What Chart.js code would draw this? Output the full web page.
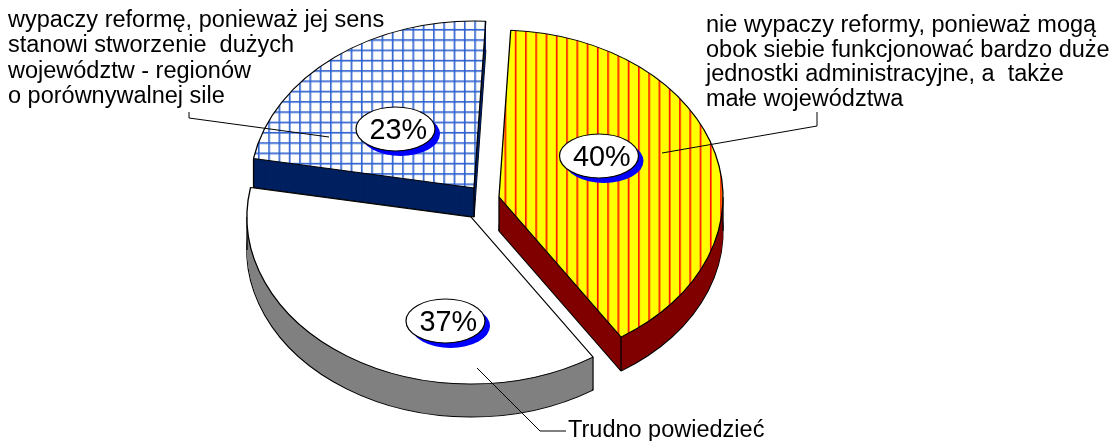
<!DOCTYPE html>
<html><head><meta charset="utf-8">
<style>html,body{margin:0;padding:0;background:#fff}canvas{display:block}</style>
<script src="https://cdn.jsdelivr.net/npm/chart.js@4"></script>
</head><body><canvas id="c" width="1113" height="441"></canvas>
<script>
const categories = [
  "nie wypaczy reformy, ponieważ mogą obok siebie funkcjonować bardzo duże jednostki administracyjne, a także małe województwa",
  "Trudno powiedzieć",
  "wypaczy reformę, ponieważ jej sens stanowi stworzenie dużych województw - regionów o porównywalnej sile"
];
const values = [40, 37, 23];
const wallColors = ['#800000', '#808080', '#002060'];
const labelLines = [
  ["nie wypaczy reformy, ponieważ mogą", "obok siebie funkcjonować bardzo duże", "jednostki administracyjne, a  także", "małe województwa"],
  ["Trudno powiedzieć"],
  ["wypaczy reformę, ponieważ jej sens", "stanowi stworzenie  dużych", "województw - regionów", "o porównywalnej sile"]
];

// Layout / style constants
const KY = 167 / 224, RX = 224;
const depth = [34, 33, 29];
const apex = [[499, 197], [471, 217], [474, 188]];
const drawOrder = [2, 1, 0];
const bubbles = [[599, 156], [445.5, 321], [395.5, 129]];
const labelPos = [[706, 32, 24.6], [568, 437, 0], [8, 27, 25.3]];
const leaders = [
  [[662, 153], [817, 126], [817, 112]],
  [[477, 368], [540, 431], [566, 431]],
  [[189, 112], [189, 118], [329, 137]]
];

function tile(w, h, paint) {
  const t = document.createElement('canvas'); t.width = w; t.height = h;
  paint(t.getContext('2d'));
  return t;
}
const ctx0 = document.getElementById('c').getContext('2d');
const yellowPat = ctx0.createPattern(tile(10, 10, g => {
  g.fillStyle = '#ffff00'; g.fillRect(0, 0, 10, 10);
  g.fillStyle = '#ff1000'; g.fillRect(0, 0, 1.6, 10);
}), 'repeat');
const bluePat = ctx0.createPattern(tile(10, 10, g => {
  g.fillStyle = '#ffffff'; g.fillRect(0, 0, 10, 10);
  g.fillStyle = '#2f62d0'; g.fillRect(0, 0, 1.6, 10); g.fillRect(0, 0, 10, 1.6);
}), 'repeat');
const patternPhase = { 0: [504.5, 0, 1.027], 2: [474.2, 101, 1.03] };
const patternOf = { 0: yellowPat, 2: bluePat };

const pie3d = {
  id: 'pie3d',
  beforeDatasetsDraw(chart) {
    const ctx = chart.ctx, arcs = chart.getDatasetMeta(0).data;
    const place = (el, i, d) => {
      ctx.translate(apex[i][0], apex[i][1] + d);
      ctx.scale(1, KY);
      ctx.translate(-el.x, -el.y);
    };
    const variant = (el, o) => Object.create(el, { options: { value: Object.assign({}, el.options, o), writable: true } });
    drawOrder.forEach(i => {
      const el = arcs[i], D = depth[i];
      // wall: stacked copies of the arc
      ctx.save(); place(el, i, D);
      variant(el, { backgroundColor: wallColors[i], borderColor: '#000', borderWidth: 1.3 }).draw(ctx);
      ctx.restore();
      for (let d = D - 1; d >= 1; d--) {
        ctx.save(); place(el, i, d);
        variant(el, { backgroundColor: wallColors[i], borderWidth: 0 }).draw(ctx);
        ctx.restore();
      }
      // vertical silhouette edges
      const angs = [el.startAngle, el.endAngle];
      [0, Math.PI, 2 * Math.PI, -Math.PI].forEach(a => { if (a > el.startAngle && a < el.endAngle) angs.push(a); });
      ctx.save(); ctx.strokeStyle = '#000'; ctx.lineWidth = 1.3; ctx.beginPath();
      angs.forEach(a => {
        const x = apex[i][0] + Math.cos(a) * el.outerRadius, y = apex[i][1] + Math.sin(a) * el.outerRadius * KY;
        const vis = (a === el.startAngle && i === 1) || (a === el.endAngle && i === 0) || (a !== el.startAngle && a !== el.endAngle) || (a === el.startAngle && i === 2);
        if (vis) { ctx.moveTo(x, y); ctx.lineTo(x, y + D); }
      });
      if (i === 0 || i === 2) { ctx.moveTo(apex[i][0], apex[i][1]); ctx.lineTo(apex[i][0], apex[i][1] + D); }
      ctx.stroke(); ctx.restore();
      // top face
      if (patternOf[i]) {
        const [x0, y0, s] = patternPhase[i];
        patternOf[i].setTransform(new DOMMatrix()
          .translate(el.x - apex[i][0] + x0, el.y + (y0 - apex[i][1]) / KY)
          .scale(s, s / KY));
      }
      ctx.save(); place(el, i, 0); el.draw(ctx); ctx.restore();
    });
    // leader lines
    ctx.save(); ctx.strokeStyle = '#000'; ctx.lineWidth = 1;
    leaders.forEach(pts => {
      ctx.beginPath();
      pts.forEach((p, k) => k ? ctx.lineTo(p[0], p[1]) : ctx.moveTo(p[0], p[1]));
      ctx.stroke();
    });
    ctx.restore();
    // percentage bubbles
    ctx.save();
    values.forEach((v, i) => {
      const [x, y] = bubbles[i];
      ctx.fillStyle = '#0000ff';
      ctx.beginPath(); ctx.ellipse(x + 5, y + 5, 39.5, 22, 0, 0, 2 * Math.PI); ctx.fill();
      ctx.fillStyle = '#fff'; ctx.strokeStyle = '#000'; ctx.lineWidth = 1.2;
      ctx.beginPath(); ctx.ellipse(x, y, 39.5, 22, 0, 0, 2 * Math.PI); ctx.fill(); ctx.stroke();
      ctx.fillStyle = '#000'; ctx.font = '28.8px "Liberation Sans"';
      ctx.textAlign = 'center'; ctx.textBaseline = 'alphabetic';
      ctx.fillText(v + '%', x + 2.7, y + 10);
    });
    // category labels
    ctx.font = '23.5px "Liberation Sans"'; ctx.textAlign = 'left'; ctx.fillStyle = '#000';
    labelLines.forEach((lines, i) => {
      const [x, y, lh] = labelPos[i];
      lines.forEach((t, k) => ctx.fillText(t, x, y + k * lh));
    });
    ctx.restore();
    return false;
  }
};

new Chart(ctx0, {
  type: 'pie',
  data: { labels: categories, datasets: [{
    data: values,
    backgroundColor: [yellowPat, '#ffffff', bluePat],
    borderColor: '#000000',
    borderWidth: 1.3
  }]},
  options: {
    responsive: false, animation: false, events: [],
    rotation: 3,
    radius: RX,
    plugins: { legend: { display: false }, tooltip: { enabled: false } }
  },
  plugins: [pie3d]
});
</script></body></html>
